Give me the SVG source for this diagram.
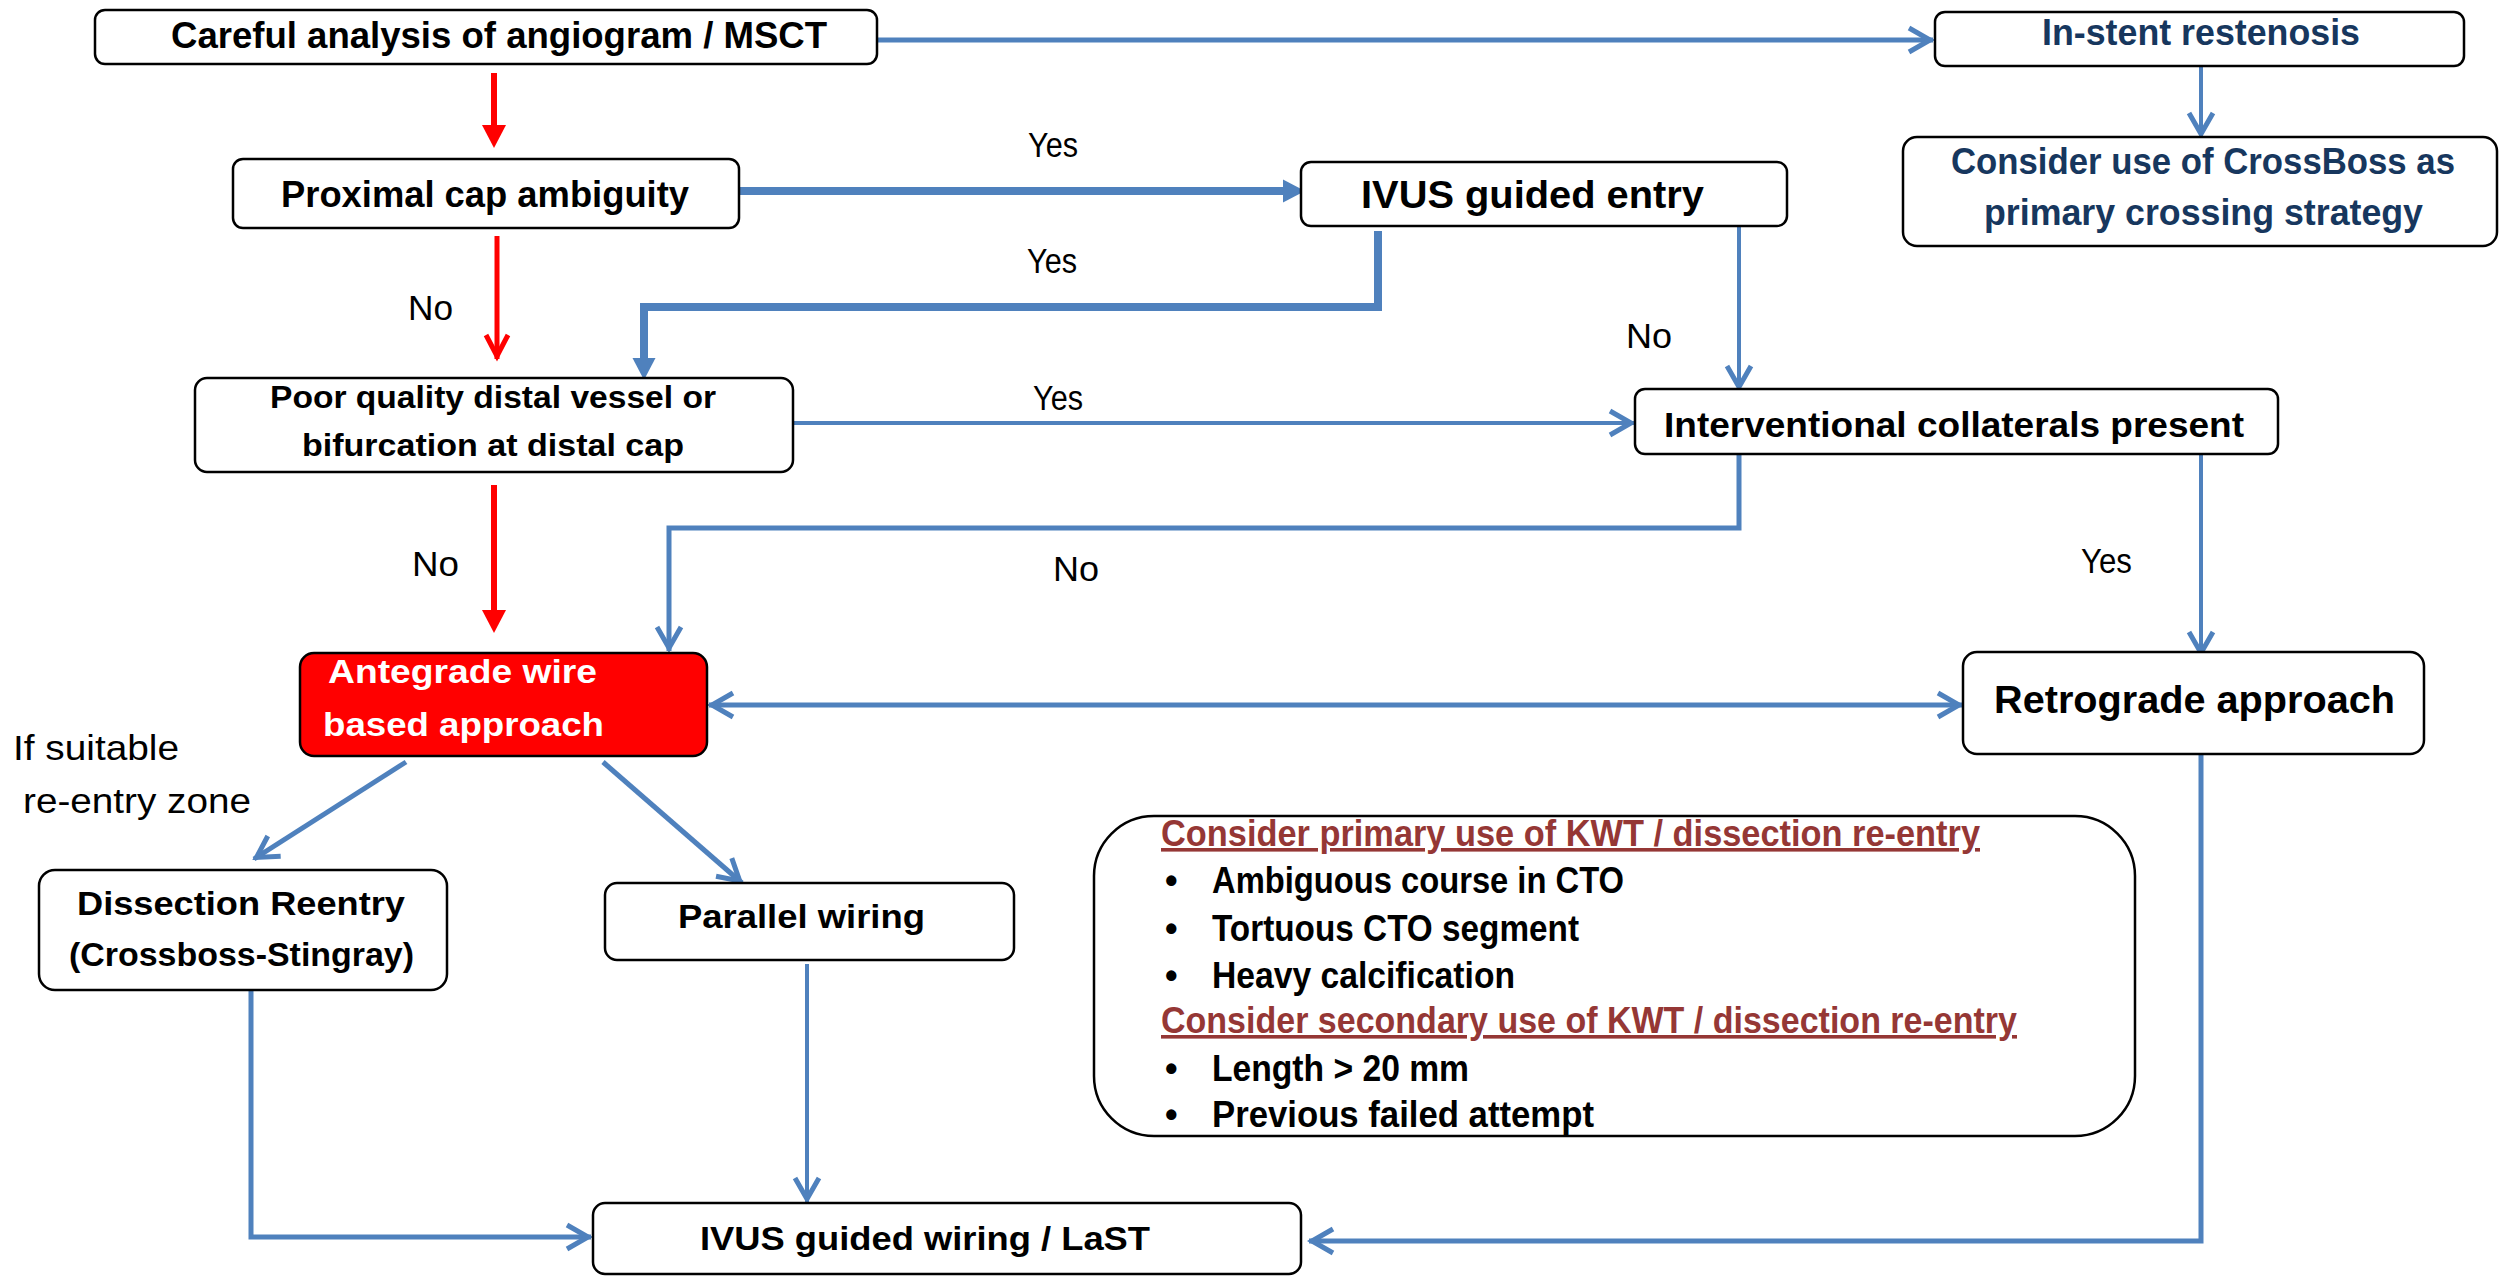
<svg xmlns="http://www.w3.org/2000/svg" width="2501" height="1276" viewBox="0 0 2501 1276">
<style>
.box{fill:#fff;stroke:#000;stroke-width:2.5}
.t{font-family:"Liberation Sans",Arial,sans-serif;font-weight:bold;fill:#000}
.lbl{font-family:"Liberation Sans",Arial,sans-serif;font-weight:normal;fill:#000;font-size:35px}
.navy{fill:#17375E}
.wh{fill:#fff}
.hd{font-family:"Liberation Sans",Arial,sans-serif;font-weight:bold;fill:#953735;font-size:36px;text-decoration:underline}
.b{fill:none;stroke:#4F81BD}
.r{fill:none;stroke:#FF0000}
</style>
<defs>
<marker id="openB" markerUnits="userSpaceOnUse" viewBox="-30 -20 40 40" refX="0" refY="0" markerWidth="40" markerHeight="40" orient="auto-start-reverse" overflow="visible">
<path d="M-24,-12 L-3,0 L-24,12" fill="none" stroke="#4F81BD" stroke-width="5"/>
</marker>
<marker id="openR" markerUnits="userSpaceOnUse" viewBox="-30 -20 40 40" refX="0" refY="0" markerWidth="40" markerHeight="40" orient="auto" overflow="visible">
<path d="M-24,-11 L-3,0 L-24,11" fill="none" stroke="#FF0000" stroke-width="5"/>
</marker>
<marker id="fillB" markerUnits="userSpaceOnUse" viewBox="-10 -15 30 30" refX="0" refY="0" markerWidth="30" markerHeight="30" orient="auto" overflow="visible">
<path d="M-7,-11.5 L15,0 L-7,11.5 Z" fill="#4F81BD"/>
</marker>
<marker id="fillR" markerUnits="userSpaceOnUse" viewBox="-10 -15 30 30" refX="0" refY="0" markerWidth="30" markerHeight="30" orient="auto" overflow="visible">
<path d="M-8,-12 L15,0 L-8,12 Z" fill="#FF0000"/>
</marker>
</defs>

<g id="connectors">
<line id="c1" class="b" stroke-width="5" x1="877" y1="40" x2="1933" y2="40" marker-end="url(#openB)"/>
<line id="c2" class="r" stroke-width="6" x1="494" y1="73" x2="494" y2="133" marker-end="url(#fillR)"/>
<line id="c3" class="b" stroke-width="8" x1="739" y1="191" x2="1290" y2="191" marker-end="url(#fillB)"/>
<line id="c4" class="r" stroke-width="5" x1="497" y1="236" x2="497" y2="359" marker-end="url(#openR)"/>
<path id="c5" class="b" stroke-width="8" d="M1378,231 V307 H644 V365" marker-end="url(#fillB)"/>
<line id="c6" class="b" stroke-width="4" x1="1739" y1="222" x2="1739" y2="390" marker-end="url(#openB)"/>
<line id="c7" class="b" stroke-width="4" x1="793" y1="423" x2="1634" y2="423" marker-end="url(#openB)"/>
<line id="c8" class="r" stroke-width="6" x1="494" y1="485" x2="494" y2="618" marker-end="url(#fillR)"/>
<path id="c9" class="b" stroke-width="5" d="M1739,454 V528 H669 V651" marker-end="url(#openB)"/>
<line id="c10" class="b" stroke-width="4" x1="2201" y1="66" x2="2201" y2="137" marker-end="url(#openB)"/>
<line id="c11" class="b" stroke-width="4" x1="2201" y1="454" x2="2201" y2="656" marker-end="url(#openB)"/>
<line id="c12" class="b" stroke-width="5" x1="709" y1="705" x2="1962" y2="705" marker-start="url(#openB)" marker-end="url(#openB)"/>
<line id="c13" class="b" stroke-width="5" x1="406" y1="762" x2="254" y2="859" marker-end="url(#openB)"/>
<line id="c14" class="b" stroke-width="5" x1="603" y1="762" x2="742" y2="883" marker-end="url(#openB)"/>
<line id="c15" class="b" stroke-width="4" x1="807" y1="964" x2="807" y2="1202" marker-end="url(#openB)"/>
<path id="c16" class="b" stroke-width="5" d="M251,990 V1237 H591" marker-end="url(#openB)"/>
<path id="c17" class="b" stroke-width="5" d="M2201,754 V1241 H1309" marker-end="url(#openB)"/>
</g>

<g id="labels">
<text class="lbl" x="1028" y="157" textLength="50" lengthAdjust="spacingAndGlyphs">Yes</text>
<text class="lbl" x="1027" y="273" textLength="50" lengthAdjust="spacingAndGlyphs">Yes</text>
<text class="lbl" x="1033" y="410" textLength="50" lengthAdjust="spacingAndGlyphs">Yes</text>
<text class="lbl" x="2081" y="573" textLength="51" lengthAdjust="spacingAndGlyphs">Yes</text>
<text class="lbl" x="408" y="320" textLength="45" lengthAdjust="spacingAndGlyphs">No</text>
<text class="lbl" x="1626" y="348" textLength="46" lengthAdjust="spacingAndGlyphs">No</text>
<text class="lbl" x="412" y="576" textLength="47" lengthAdjust="spacingAndGlyphs">No</text>
<text class="lbl" x="1053" y="581" textLength="46" lengthAdjust="spacingAndGlyphs">No</text>
<text class="lbl" x="13" y="760" textLength="166" lengthAdjust="spacingAndGlyphs">If suitable</text>
<text class="lbl" x="23" y="813" textLength="228" lengthAdjust="spacingAndGlyphs">re-entry  zone</text>
</g>

<g id="n1">
<rect class="box" x="95" y="10" width="782" height="54" rx="10"/>
<text class="t" font-size="36" x="171" y="48" textLength="656" lengthAdjust="spacingAndGlyphs">Careful analysis of angiogram / MSCT</text>
</g>
<g id="n2">
<rect class="box" x="233" y="159" width="506" height="69" rx="10"/>
<text class="t" font-size="36" x="281" y="207" textLength="408" lengthAdjust="spacingAndGlyphs">Proximal cap ambiguity</text>
</g>
<g id="n3">
<rect class="box" x="1301" y="162" width="486" height="64" rx="10"/>
<text class="t" font-size="39" x="1361" y="208" textLength="343" lengthAdjust="spacingAndGlyphs">IVUS guided entry</text>
</g>
<g id="n4">
<rect class="box" x="1935" y="12" width="529" height="54" rx="10"/>
<text class="t navy" font-size="36" x="2042" y="45" textLength="318" lengthAdjust="spacingAndGlyphs">In-stent restenosis</text>
</g>
<g id="n5">
<rect class="box" x="1903" y="137" width="594" height="109" rx="14"/>
<text class="t navy" font-size="36" x="1951" y="174" textLength="504" lengthAdjust="spacingAndGlyphs">Consider use of CrossBoss as</text>
<text class="t navy" font-size="36" x="1984" y="225" textLength="439" lengthAdjust="spacingAndGlyphs">primary crossing strategy</text>
</g>
<g id="n6">
<rect class="box" x="195" y="378" width="598" height="94" rx="12"/>
<text class="t" font-size="32" x="270" y="408" textLength="446" lengthAdjust="spacingAndGlyphs">Poor quality distal vessel or</text>
<text class="t" font-size="32" x="302" y="456" textLength="382" lengthAdjust="spacingAndGlyphs">bifurcation at distal cap</text>
</g>
<g id="n7">
<rect class="box" x="1635" y="389" width="643" height="65" rx="10"/>
<text class="t" font-size="35" x="1664" y="437" textLength="580" lengthAdjust="spacingAndGlyphs">Interventional collaterals present</text>
</g>
<g id="n8">
<rect x="300" y="653" width="407" height="103" rx="14" fill="#FF0000" stroke="#000" stroke-width="2.5"/>
<text class="t wh" font-size="33" x="328" y="683" textLength="269" lengthAdjust="spacingAndGlyphs">Antegrade wire</text>
<text class="t wh" font-size="34" x="323" y="736" textLength="281" lengthAdjust="spacingAndGlyphs">based  approach</text>
</g>
<g id="n9">
<rect class="box" x="1963" y="652" width="461" height="102" rx="14"/>
<text class="t" font-size="38" x="1994" y="713" textLength="401" lengthAdjust="spacingAndGlyphs">Retrograde approach</text>
</g>
<g id="n10">
<rect class="box" x="39" y="870" width="408" height="120" rx="16"/>
<text class="t" font-size="34" x="77" y="915" textLength="328" lengthAdjust="spacingAndGlyphs">Dissection  Reentry</text>
<text class="t" font-size="34" x="69" y="966" textLength="345" lengthAdjust="spacingAndGlyphs">(Crossboss-Stingray)</text>
</g>
<g id="n11">
<rect class="box" x="605" y="883" width="409" height="77" rx="12"/>
<text class="t" font-size="34" x="678" y="928" textLength="247" lengthAdjust="spacingAndGlyphs">Parallel wiring</text>
</g>
<g id="n12">
<rect class="box" x="593" y="1203" width="708" height="71" rx="12"/>
<text class="t" font-size="34" x="700" y="1250" textLength="450" lengthAdjust="spacingAndGlyphs">IVUS guided wiring / LaST</text>
</g>
<g id="n13">
<rect class="box" x="1094" y="816" width="1041" height="320" rx="60"/>
<text class="hd" x="1161" y="846" textLength="819" lengthAdjust="spacingAndGlyphs">Consider primary use of KWT / dissection re-entry</text>
<text class="t" font-size="36" x="1165" y="893">•</text>
<text class="t" font-size="36" x="1212" y="893" textLength="412" lengthAdjust="spacingAndGlyphs">Ambiguous course in CTO</text>
<text class="t" font-size="36" x="1165" y="941">•</text>
<text class="t" font-size="36" x="1212" y="941" textLength="367" lengthAdjust="spacingAndGlyphs">Tortuous CTO segment</text>
<text class="t" font-size="36" x="1165" y="988">•</text>
<text class="t" font-size="36" x="1212" y="988" textLength="303" lengthAdjust="spacingAndGlyphs">Heavy calcification</text>
<text class="hd" x="1161" y="1033" textLength="856" lengthAdjust="spacingAndGlyphs">Consider secondary use of KWT / dissection re-entry</text>
<text class="t" font-size="36" x="1165" y="1081">•</text>
<text class="t" font-size="36" x="1212" y="1081" textLength="257" lengthAdjust="spacingAndGlyphs">Length &gt; 20 mm</text>
<text class="t" font-size="36" x="1165" y="1127">•</text>
<text class="t" font-size="36" x="1212" y="1127" textLength="382" lengthAdjust="spacingAndGlyphs">Previous failed attempt</text>
</g>
</svg>
